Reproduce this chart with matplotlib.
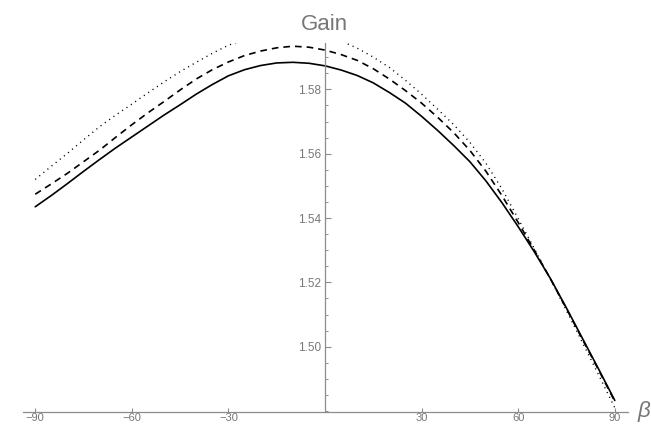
import matplotlib
matplotlib.use("Agg")
import matplotlib.pyplot as plt
from matplotlib.ticker import MultipleLocator

plt.rcParams["font.family"] = ["Liberation Sans", "DejaVu Sans"]

# beta angle (degrees)
beta = [-90, -85, -80, -75, -70, -65, -60, -55, -50, -45, -40, -35, -30,
        -25, -20, -15, -10, -5, 0, 5, 10, 15, 20, 25, 30, 35, 40, 45, 50,
        55, 60, 65, 70, 75, 80, 85, 90]

gain_solid = [1.5435, 1.5470, 1.5507, 1.5545, 1.5582, 1.5618, 1.5652, 1.5686,
              1.5720, 1.5752, 1.5785, 1.5815, 1.5842, 1.5861, 1.5874, 1.5882,
              1.5884, 1.5881, 1.5873, 1.5860, 1.5843, 1.5820, 1.5790, 1.5757,
              1.5716, 1.5672, 1.5625, 1.5575, 1.5515, 1.5447, 1.5373, 1.5295,
              1.5212, 1.5120, 1.5025, 1.4930, 1.4833]

gain_dashed = [1.5474, 1.5506, 1.5539, 1.5575, 1.5611, 1.5651, 1.5690, 1.5727,
               1.5762, 1.5798, 1.5832, 1.5861, 1.5885, 1.5905, 1.5919, 1.5929,
               1.5934, 1.5931, 1.5922, 1.5908, 1.5890, 1.5864, 1.5832, 1.5796,
               1.5757, 1.5713, 1.5665, 1.5610, 1.5545, 1.5469, 1.5386, 1.5300,
               1.5211, 1.5118, 1.5022, 1.4927, 1.4830]

gain_dotted = [1.5520, 1.5561, 1.5601, 1.5643, 1.5684, 1.5720, 1.5754, 1.5789,
               1.5823, 1.5855, 1.5884, 1.5912, 1.5937, 1.5955, 1.5970, 1.5977,
               1.5980, 1.5976, 1.5967, 1.5950, 1.5928, 1.5900, 1.5868, 1.5828,
               1.5785, 1.5738, 1.5690, 1.5635, 1.5570, 1.5490, 1.5398, 1.5305,
               1.5210, 1.5112, 1.5012, 1.4912, 1.4810]

x_ticks = [-90, -60, -30, 30, 60, 90]
y_ticks = [1.50, 1.52, 1.54, 1.56, 1.58]

GREY = "#777777"
AXIS_GREY = "#8c8c8c"

fig = plt.figure(figsize=(6.51, 4.25), dpi=100)
ax = fig.add_axes([23 / 651, 13.3 / 425, 605 / 651, 368.7 / 425])

ax.plot(beta, gain_solid, color="black", lw=1.2, solid_capstyle="round")
ax.plot(beta, gain_dashed, color="black", lw=1.2, ls=(0, (4, 3)))
ax.plot(beta, gain_dotted, color="black", lw=1.0, ls=(0, (0.8, 3.0)))

ax.set_xlim(-93.8, 94.1)
ax.set_ylim(1.4798, 1.5944)

for side in ("top", "right"):
    ax.spines[side].set_visible(False)
ax.spines["left"].set_position(("data", 0))
for side in ("left", "bottom"):
    ax.spines[side].set_color(AXIS_GREY)
    ax.spines[side].set_linewidth(0.9)

ax.set_xticks(x_ticks)
ax.set_xticklabels([str(v).replace("-", "\u2212") for v in x_ticks])
ax.set_yticks(y_ticks)
ax.set_yticklabels([f"{v:.2f}" for v in y_ticks])
ax.yaxis.set_minor_locator(MultipleLocator(0.005))

ax.tick_params(axis="x", direction="in", length=3, width=0.8, color=AXIS_GREY,
               labelcolor=GREY, labelsize=8, pad=1)
ax.tick_params(axis="y", which="major", direction="in", length=4, width=0.8,
               color=AXIS_GREY, labelcolor=GREY, labelsize=8.5, pad=3)
ax.tick_params(axis="y", which="minor", direction="in", length=2.5, width=0.7,
               color=AXIS_GREY)

fig.text(324 / 651, 1 - 30 / 425, "Gain", ha="center", va="baseline",
         fontsize=16, color=GREY)
fig.text(644 / 651, 1 - 411 / 425, "\u03b2", ha="center", va="center",
         fontsize=16, style="italic", color=GREY)

fig.savefig("out.png", dpi=100)
